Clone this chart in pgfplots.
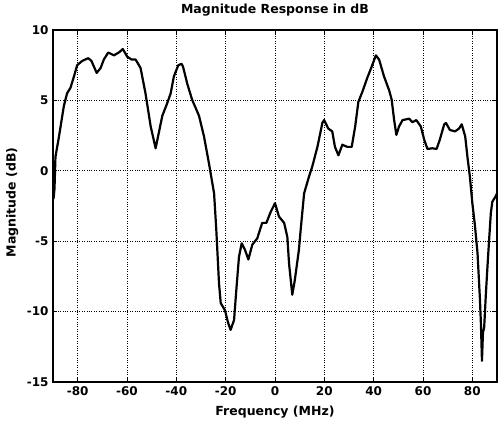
\documentclass[border=0pt]{standalone}
\usepackage{fontspec}
\setmainfont{DejaVu Sans}
\usepackage{pgfplots}
\pgfplotsset{compat=1.18}
\begin{document}
\begin{tikzpicture}
\path[use as bounding box] (-53pt,-40pt) rectangle (446pt,382pt);
\begin{axis}[
  at={(0,0)}, anchor=south west,
  scale only axis,
  width=444pt, height=352pt,
  xmin=-90, xmax=90,
  ymin=-15, ymax=10,
  xtick={-80,-60,...,80},
  ytick={-15,-10,...,10},
  /pgf/number format/assume math mode=true,
  ticklabel style={font=\fontsize{12}{14}\selectfont\bfseries},
  title={Magnitude Response in dB},
  title style={font=\fontsize{12.5}{14}\selectfont\bfseries, at={(axis description cs:0.5,1)}, anchor=south, yshift=4pt},
  xlabel={Frequency (MHz)},
  ylabel={Magnitude (dB)},
  label style={font=\fontsize{12.5}{14}\selectfont\bfseries},
  xlabel style={at={(axis description cs:0.5,-0.085)}, anchor=center},
  ylabel style={at={(axis description cs:-0.092,0.51)}, anchor=center},
  xticklabel style={yshift=-1pt},
  yticklabel style={xshift=-1pt},
  grid=major,
  grid style={dotted, black, line width=0.8pt},
  tick align=inside,
  major tick length=4pt,
  tick style={black, line width=0.6pt},
  axis line style={black, line width=1.2pt},
]
\addplot[black, line width=2.2pt, line join=round] coordinates {
  (-89.8,-2.0) (-89.4,-1.3) (-89.0,1.0) (-87.6,2.4) (-85.6,4.6) (-84.3,5.5)
  (-82.9,5.9) (-81.5,6.7) (-80.2,7.5) (-78.2,7.8) (-75.7,8.0) (-74.4,7.8)
  (-72.3,6.95) (-70.7,7.3) (-69.4,7.9) (-67.6,8.4) (-65.3,8.2) (-63.3,8.4)
  (-61.7,8.65) (-59.9,8.1) (-58.1,7.9) (-56.5,7.9) (-54.5,7.3) (-52.5,5.5)
  (-50.4,3.15) (-48.4,1.6) (-47.1,2.7) (-45.7,3.9) (-43.7,4.8) (-42.3,5.5)
  (-41.0,6.7) (-39.2,7.5) (-37.9,7.6) (-37.3,7.4) (-35.6,6.2) (-33.6,5.05)
  (-30.8,3.9) (-28.8,2.45) (-26.8,0.55) (-24.7,-1.6) (-23.8,-4.2) (-22.7,-8.0)
  (-22.0,-9.4) (-20.3,-9.9) (-19.0,-10.8) (-18.0,-11.3) (-16.6,-10.6) (-15.7,-8.5)
  (-14.6,-6.1) (-13.5,-5.15) (-12.2,-5.6) (-10.8,-6.3) (-9.2,-5.25) (-7.2,-4.8)
  (-5.2,-3.7) (-3.5,-3.7) (-1.7,-2.9) (0.0,-2.3) (1.6,-3.25) (3.7,-3.7)
  (5.0,-4.7) (5.7,-6.6) (7.0,-8.8) (8.0,-7.8) (9.7,-5.6) (10.4,-4.2)
  (11.8,-1.6) (13.8,-0.4) (15.1,0.3) (17.2,1.7) (19.2,3.4) (19.9,3.6)
  (21.6,3.0) (23.2,2.8) (24.3,1.7) (25.7,1.1) (27.3,1.85) (29.3,1.7)
  (31.1,1.7) (32.5,3.15) (33.8,4.9) (35.4,5.6) (37.4,6.6) (39.2,7.4)
  (40.9,8.2) (42.2,7.9) (44.2,6.7) (46.3,5.7) (47.3,5.05) (48.3,3.6)
  (49.2,2.55) (50.3,3.15) (51.7,3.6) (54.4,3.7) (55.7,3.45) (57.3,3.6)
  (59.1,3.15) (60.5,2.2) (61.8,1.55) (63.8,1.6) (65.5,1.55) (66.8,2.2)
  (68.6,3.3) (69.3,3.4) (70.9,2.9) (73.0,2.8) (74.6,3.0) (75.7,3.3)
  (77.1,2.45) (78.0,1.0) (79.0,-0.4) (80.0,-2.3) (81.0,-3.8) (82.1,-5.85)
  (83.1,-9.2) (83.5,-11.0) (83.9,-13.5) (84.3,-11.5) (84.8,-11.1) (85.5,-8.7)
  (86.2,-6.6) (86.8,-4.9) (87.5,-3.0) (88.1,-2.2) (89.5,-1.8) (90.0,-1.6)
};
\end{axis}
\end{tikzpicture}
\end{document}
